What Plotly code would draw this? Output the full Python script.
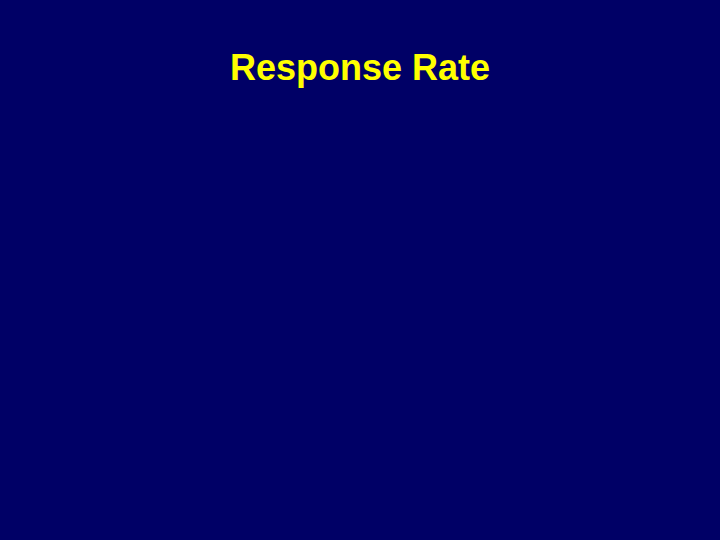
import plotly.graph_objects as go

# the slide has no plotted data, only the heading
title_text = "Response Rate"
categories = []
values = []

fig = go.Figure(go.Bar(x=categories, y=values))

fig.update_layout(
    width=720, height=540,
    paper_bgcolor="#000066",
    plot_bgcolor="#000066",
    margin=dict(l=0, r=0, t=0, b=0),
    title=dict(text=f"<b>{title_text}</b>", x=0.5, xanchor="center",
               y=1 - 67 / 540, yanchor="middle", yref="container",
               font=dict(family="Liberation Sans, Arial", size=36, color="#ffff00")),
    xaxis=dict(visible=False),
    yaxis=dict(visible=False),
    showlegend=False,
)
# drop the default page margin so the slide fills the window
fig.write_html("out.html", config={"displayModeBar": False},
               post_script="document.body.style.margin='0';document.body.style.background='#000066';")
